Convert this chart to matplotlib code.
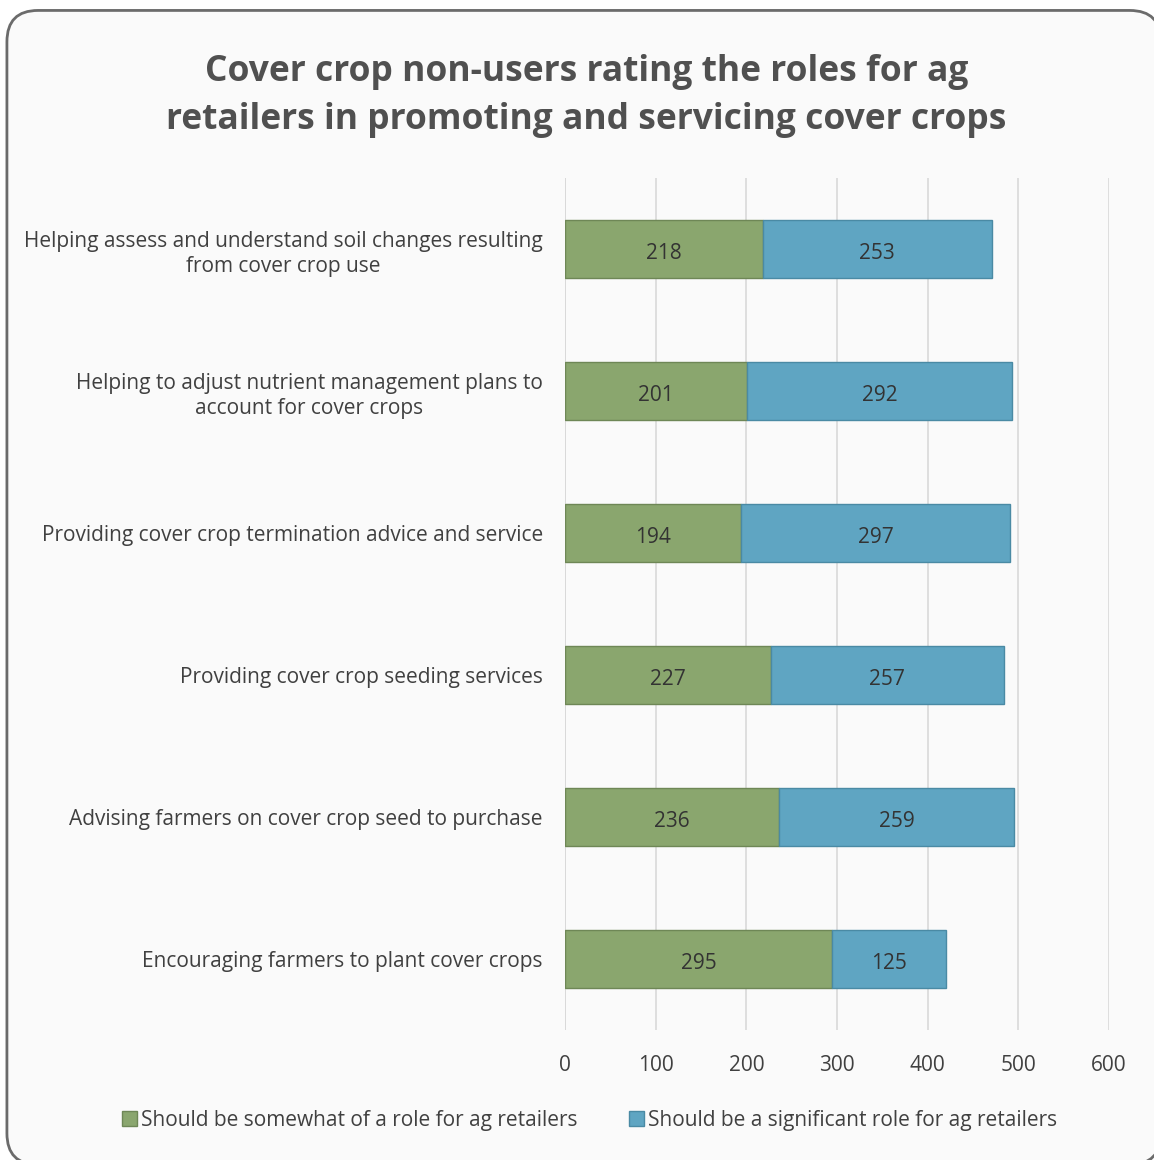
import matplotlib.pyplot as plt
from matplotlib.patches import FancyBboxPatch

categories = [
    "Helping assess and understand soil changes resulting\nfrom cover crop use",
    "Helping to adjust nutrient management plans to\naccount for cover crops",
    "Providing cover crop termination advice and service",
    "Providing cover crop seeding services",
    "Advising farmers on cover crop seed to purchase",
    "Encouraging farmers to plant cover crops",
]
somewhat = [218, 201, 194, 227, 236, 295]
significant = [253, 292, 297, 257, 259, 125]
series_names = ["Should be somewhat of a role for ag retailers",
                "Should be a significant role for ag retailers"]
xticks = [0, 100, 200, 300, 400, 500, 600]

green = "#8aa66e"
blue = "#5fa5c2"
text_col = "#404040"

plt.rcParams['font.family'] = ['Open Sans', 'DejaVu Sans']

fig = plt.figure(figsize=(11.54, 11.6), dpi=100)
fig.patch.set_facecolor("white")

# rounded frame, slightly cut at the right and bottom edges like the source image
frame = FancyBboxPatch((0.006, -0.004), 1.0, 0.995, boxstyle="round,pad=0,rounding_size=0.027",
                       transform=fig.transFigure, facecolor="#fafafa", edgecolor="#6b6b6b",
                       linewidth=2, zorder=-5)
fig.patches.append(frame)

ax = fig.add_axes([0.4896, 0.112, 0.4714, 0.7345])
ax.set_facecolor("none")

y = list(range(len(categories)))
ax.barh(y, somewhat, height=0.41, color=green, edgecolor="#6e8756", linewidth=1, zorder=3,
        label=series_names[0])
ax.barh(y, significant, left=somewhat, height=0.41, color=blue, edgecolor="#4a8aa4",
        linewidth=1, zorder=3, label=series_names[1])

for i in y:
    ax.text(somewhat[i] / 2, i + 0.03, str(somewhat[i]), ha="center", va="center",
            fontsize=15, color="#333333", zorder=4)
    ax.text(somewhat[i] + significant[i] / 2, i + 0.03, str(significant[i]), ha="center",
            va="center", fontsize=15, color="#333333", zorder=4)

ax.set_ylim(5.5, -0.5)
ax.set_xlim(0, 600)
ax.set_xticks(xticks)
ax.set_xticklabels([str(t) for t in xticks], fontsize=15, color=text_col)
ax.set_yticks(y)
ax.set_yticklabels(categories, fontsize=15, color=text_col, multialignment="center",
                   linespacing=1.3)
ax.tick_params(axis="y", length=0, pad=16)
ax.tick_params(axis="x", length=0, pad=18)
ax.grid(axis="x", color="#d9d9d9", linewidth=1.2, zorder=0)
for s in ax.spines.values():
    s.set_visible(False)
ax.axvline(0, color="#d9d9d9", linewidth=1.2, zorder=1)

fig.text(0.508, 0.917, "Cover crop non-users rating the roles for ag\n"
         "retailers in promoting and servicing cover crops",
         ha="center", va="center", fontsize=25.5, fontweight="bold", color="#505050",
         linespacing=1.45)

fig.legend(loc="center", bbox_to_anchor=(0.511, 0.034), ncol=2, frameon=False,
           fontsize=15, handlelength=0.7, handleheight=0.7, handletextpad=0.2,
           columnspacing=2.5, labelcolor=text_col)

plt.savefig("out.png", dpi=100)
